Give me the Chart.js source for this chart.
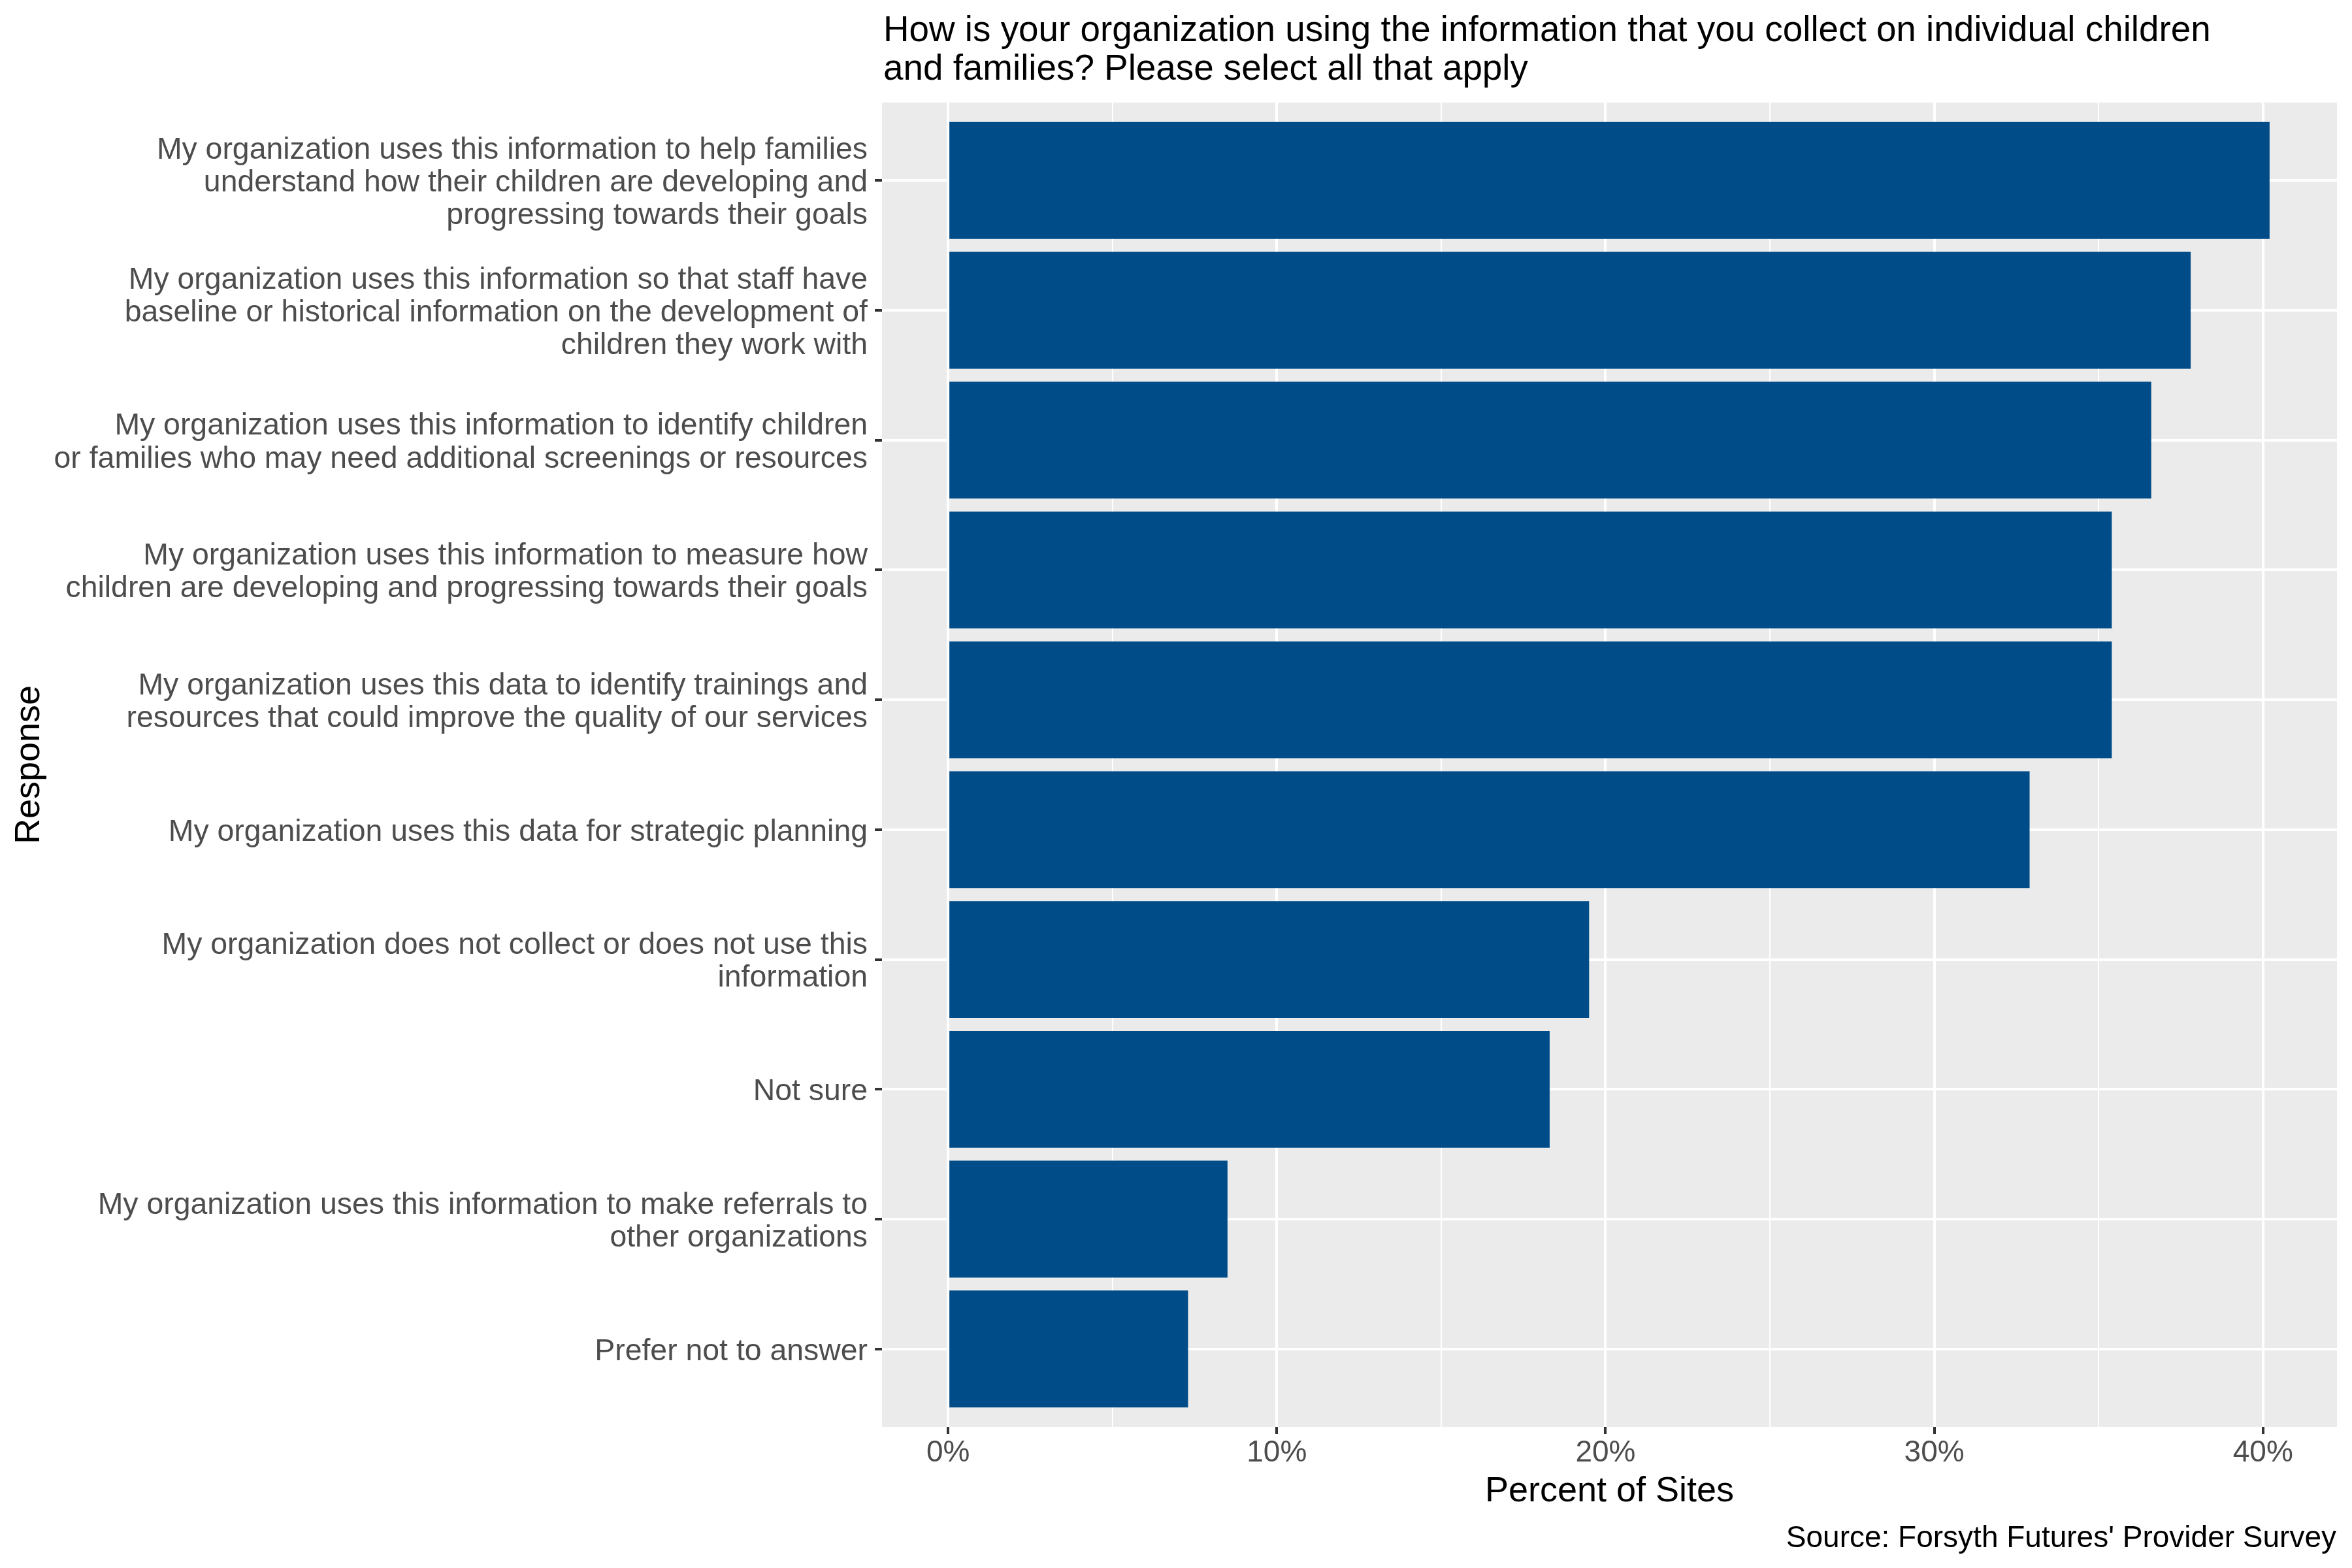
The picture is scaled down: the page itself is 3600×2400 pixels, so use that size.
<!DOCTYPE html>
<html>
<head>
<meta charset="utf-8">
<script src="https://cdn.jsdelivr.net/npm/chart.js@4.4.1/dist/chart.umd.min.js"></script>
<style>
body { margin: 0; background: #fff; }
#wrap { position: relative; width: 3600px; height: 2400px; font-family: 'Liberation Sans', Arial, sans-serif; }
#title { position: absolute; left: 1352px; top: 15px; font-size: 54.8px; line-height: 59px; color: #000; white-space: nowrap; }
#caption { position: absolute; right: 24px; top: 2329px; font-size: 46px; line-height: 46px; color: #000; white-space: nowrap; }
</style>
</head>
<body>
<div id="wrap">
    <canvas id="chart" width="3600" height="2400"></canvas>
    <div id="title">How is your organization using the information that you collect on individual children<br>and families? Please select all that apply</div>
    <div id="caption">Source: Forsyth Futures' Provider Survey</div>
</div>

<script>
    // Responses, top to bottom
    const responses = [
        ['My organization uses this information to help families', 'understand how their children are developing and', 'progressing towards their goals'],
        ['My organization uses this information so that staff have', 'baseline or historical information on the development of', 'children they work with'],
        ['My organization uses this information to identify children', 'or families who may need additional screenings or resources'],
        ['My organization uses this information to measure how', 'children are developing and progressing towards their goals'],
        ['My organization uses this data to identify trainings and', 'resources that could improve the quality of our services'],
        'My organization uses this data for strategic planning',
        ['My organization does not collect or does not use this', 'information'],
        'Not sure',
        ['My organization uses this information to make referrals to', 'other organizations'],
        'Prefer not to answer'
    ];
    const rowPositions = [1, 2, 3, 4, 5, 6, 7, 8, 9, 10];
    const percentOfSites = [40.2, 37.8, 36.6, 35.4, 35.4, 32.9, 19.5, 18.3, 8.5, 7.3];
    const xTicks = [0, 5, 10, 15, 20, 25, 30, 35, 40];

    Chart.defaults.font.family = "'Liberation Sans', Arial, sans-serif";
    Chart.defaults.color = '#4D4D4D';

    // grey panel behind the bars, like ggplot
    const panelBackground = {
        id: 'panelBackground',
        beforeDraw(chart) {
            const { ctx, chartArea: a } = chart;
            ctx.save();
            ctx.fillStyle = '#EBEBEB';
            ctx.fillRect(a.left, a.top, a.right - a.left, a.bottom - a.top);
            ctx.restore();
        }
    };

    const isMajor = (v) => v % 10 === 0;

    new Chart(document.getElementById('chart'), {
        type: 'bar',
        data: {
            datasets: [{
                data: percentOfSites.map((v, i) => ({ x: v, y: rowPositions[i] })),
                backgroundColor: '#004C89',
                borderWidth: 0,
                barPercentage: 0.9,
                categoryPercentage: 1.0
            }]
        },
        plugins: [panelBackground],
        options: {
            indexAxis: 'y',
            responsive: false,
            devicePixelRatio: 1,
            animation: false,
            layout: { padding: { left: 0, top: 157, right: 23, bottom: 76 } },
            plugins: {
                legend: { display: false },
                tooltip: { enabled: false }
            },
            scales: {
                x: {
                    type: 'linear',
                    min: -2.01,
                    max: 42.25,
                    afterBuildTicks: (scale) => { scale.ticks = xTicks.map(v => ({ value: v })); },
                    afterFit: (scale) => { scale.height = 140; },
                    border: { display: false },
                    grid: {
                        color: '#FFFFFF',
                        lineWidth: (ctx) => isMajor(ctx.tick.value) ? 4 : 2,
                        tickColor: (ctx) => isMajor(ctx.tick.value) ? '#333333' : 'rgba(0,0,0,0)',
                        tickWidth: 4,
                        tickLength: 11
                    },
                    ticks: {
                        autoSkip: false,
                        maxRotation: 0,
                        padding: 2,
                        color: '#4D4D4D',
                        font: { size: 46, lineHeight: 1.2 },
                        callback: (v) => isMajor(v) ? v + '%' : ''
                    },
                    title: {
                        display: true,
                        text: 'Percent of Sites',
                        color: '#000000',
                        font: { size: 54, lineHeight: 1.2 },
                        padding: { top: 0, bottom: 8 }
                    }
                },
                y: {
                    type: 'linear',
                    min: 0.4,
                    max: 10.6,
                    reverse: true,
                    offset: false,
                    afterBuildTicks: (scale) => { scale.ticks = rowPositions.map(v => ({ value: v })); },
                    afterFit: (scale) => { scale.width = 1350; },
                    border: { display: false },
                    grid: {
                        offset: false,
                        color: '#FFFFFF',
                        lineWidth: 4,
                        tickColor: '#333333',
                        tickWidth: 4,
                        tickLength: 11
                    },
                    ticks: {
                        autoSkip: false,
                        padding: 11,
                        labelOffset: 4,
                        color: '#4D4D4D',
                        font: { size: 46.4, lineHeight: 1.08 },
                        callback: (v) => responses[v - 1]
                    },
                    title: {
                        display: true,
                        text: 'Response',
                        color: '#000000',
                        font: { size: 54, lineHeight: 1.2 },
                        padding: { top: 13, bottom: 0 }
                    }
                }
            }
        }
    });
</script>
</body>
</html>
